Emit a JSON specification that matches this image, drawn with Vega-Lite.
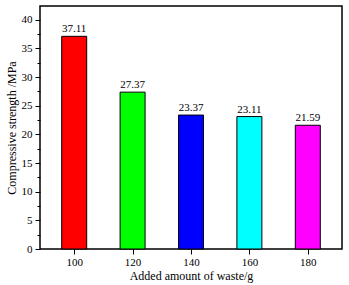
{
  "$schema": "https://vega.github.io/schema/vega-lite/v6.json",
  "width": 302,
  "height": 243,
  "autosize": {"type": "none"},
  "padding": {"left": 40, "top": 6, "right": 7, "bottom": 36},
  "background": "white",
  "config": {
    "view": {"stroke": "black", "strokeWidth": 1.5},
    "font": "Liberation Serif",
    "axis": {"grid": false, "domain": false, "labelFont": "Liberation Serif", "titleFont": "Liberation Serif", "labelFontSize": 11, "titleFontSize": 12, "titleFontWeight": "normal", "labelColor": "black", "titleColor": "black", "tickColor": "black", "tickWidth": 1}
  },
  "data": {"values": [
    {"amount": 100, "strength": 37.11, "label": "37.11"},
    {"amount": 120, "strength": 27.37, "label": "27.37"},
    {"amount": 140, "strength": 23.37, "label": "23.37"},
    {"amount": 160, "strength": 23.11, "label": "23.11"},
    {"amount": 180, "strength": 21.59, "label": "21.59"}
  ]},
  "encoding": {
    "x": {"field": "amount", "type": "quantitative", "scale": {"domain": [90, 190], "nice": false, "zero": false},
      "axis": {"values": [100, 120, 140, 160, 180], "tickSize": 5, "labelPadding": 2, "title": "Added amount of waste/g", "titlePadding": 3}},
    "y": {"field": "strength", "type": "quantitative", "scale": {"domain": [0, 42.4], "nice": false},
      "axis": {"values": [0, 2.5, 5, 7.5, 10, 12.5, 15, 17.5, 20, 22.5, 25, 27.5, 30, 32.5, 35, 37.5, 40],
        "labelExpr": "datum.value % 5 === 0 ? datum.label : ''",
        "tickSize": {"condition": {"test": "datum.value % 5 === 0", "value": 5}, "value": 3},
        "labelPadding": 3, "title": "Compressive strength /MPa", "titlePadding": 3}}
  },
  "layer": [
    {"mark": {"type": "bar", "size": 25, "stroke": "black", "strokeWidth": 1},
     "encoding": {"color": {"field": "label", "type": "nominal", "legend": null,
       "scale": {"range": ["#ff0000", "#00ff00", "#0000ff", "#00ffff", "#ff00ff"]}, "sort": null}}},
    {"mark": {"type": "text", "baseline": "bottom", "dy": -2, "fontSize": 11, "font": "Liberation Serif", "color": "black"},
     "encoding": {"text": {"field": "label"}}}
  ]
}
